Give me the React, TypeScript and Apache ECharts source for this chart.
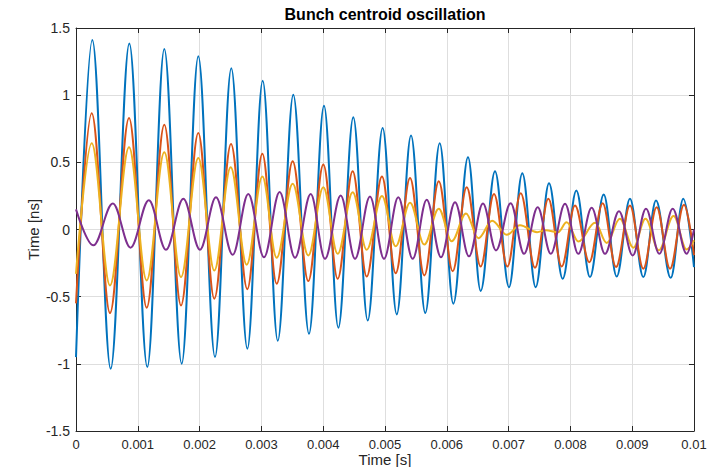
import React, { useEffect, useRef } from "react";
import * as echarts from "echarts";

// Extrema: [time (s), value (ns)]
const blueData: [number, number][] = [
  [0, -0.95], [0.000264, 1.41], [0.000561, -1.036], [0.000863, 1.385], [0.001154, -1.024],
  [0.001429, 1.343], [0.00171, -0.999], [0.001979, 1.29], [0.002249, -0.949], [0.002513, 1.2],
  [0.002773, -0.887], [0.003021, 1.108], [0.003265, -0.828], [0.003516, 1.004], [0.00377, -0.776],
  [0.004013, 0.922], [0.004245, -0.731], [0.004487, 0.835], [0.00472, -0.677], [0.004962, 0.756],
  [0.00519, -0.632], [0.005421, 0.699], [0.005652, -0.622], [0.005885, 0.642], [0.006106, -0.552],
  [0.006343, 0.538], [0.006548, -0.457], [0.00678, 0.434], [0.007006, -0.429], [0.007222, 0.419],
  [0.007438, -0.429], [0.007654, 0.344], [0.007875, -0.367], [0.008096, 0.29], [0.008317, -0.354],
  [0.008539, 0.26], [0.008749, -0.35], [0.008964, 0.228], [0.00918, -0.354], [0.009385, 0.216],
  [0.009623, -0.36], [0.009827, 0.228], [0.01, -0.28],
];

const redData: [number, number][] = [
  [0, -0.55], [0.000254, 0.865], [0.00055, -0.622], [0.000858, 0.83], [0.001144, -0.582],
  [0.001429, 0.78], [0.001699, -0.565], [0.001979, 0.719], [0.002238, -0.515], [0.002508, 0.637],
  [0.002772, -0.444], [0.003015, 0.563], [0.003247, -0.404], [0.003506, 0.508], [0.003759, -0.384],
  [0.004002, 0.483], [0.004234, -0.367], [0.004477, 0.434], [0.004704, -0.35], [0.004951, 0.394],
  [0.005173, -0.325], [0.005405, 0.384], [0.005636, -0.342], [0.00587, 0.359], [0.006095, -0.31],
  [0.006322, 0.315], [0.006548, -0.275], [0.006764, 0.265], [0.00698, -0.275], [0.007196, 0.27],
  [0.007427, -0.285], [0.007643, 0.228], [0.007859, -0.275], [0.008074, 0.178], [0.008306, -0.243],
  [0.008522, 0.196], [0.008738, -0.28], [0.008964, 0.178], [0.00918, -0.292], [0.009396, 0.166],
  [0.009612, -0.292], [0.009838, 0.184], [0.01, -0.19],
];

const yellowData: [number, number][] = [
  [0, -0.33], [0.000254, 0.642], [0.00055, -0.416], [0.000858, 0.612], [0.001144, -0.379],
  [0.001429, 0.575], [0.001699, -0.354], [0.001979, 0.533], [0.002238, -0.305], [0.002503, 0.463],
  [0.002762, -0.262], [0.003015, 0.394], [0.003247, -0.21], [0.003506, 0.34], [0.003759, -0.193],
  [0.004002, 0.315], [0.004234, -0.181], [0.004477, 0.277], [0.004704, -0.151], [0.004951, 0.25],
  [0.005173, -0.125], [0.005405, 0.2], [0.005636, -0.112], [0.00587, 0.155], [0.006079, -0.088],
  [0.006311, 0.12], [0.00651, -0.065], [0.006735, 0.065], [0.00697, -0.04], [0.007184, 0.032],
  [0.00746, -0.02], [0.0076, -0.005], [0.0078, -0.02], [0.00794, 0.054], [0.00813, -0.09],
  [0.0084, 0.05], [0.008588, -0.1], [0.0088, 0.08], [0.00902, -0.135], [0.009215, 0.08],
  [0.00943, -0.155], [0.00967, 0.1], [0.00988, -0.148], [0.01, -0.08],
];

const purpleData: [number, number][] = [
  [0, 0.15], [0.00028, -0.118], [0.000596, 0.193], [0.000882, -0.135], [0.001179, 0.218],
  [0.001456, -0.151], [0.001737, 0.228], [0.002006, -0.151], [0.002265, 0.24], [0.002535, -0.188],
  [0.002788, 0.265], [0.003042, -0.206], [0.003295, 0.28], [0.003544, -0.21], [0.003798, 0.265],
  [0.004029, -0.218], [0.004283, 0.253], [0.004515, -0.218], [0.004757, 0.245], [0.004984, -0.218],
  [0.005215, 0.24], [0.005448, -0.218], [0.005675, 0.221], [0.005906, -0.206], [0.006133, 0.203],
  [0.006359, -0.2], [0.006585, 0.193], [0.006796, -0.156], [0.007034, 0.196], [0.00725, -0.181],
  [0.007471, 0.166], [0.007682, -0.181], [0.007913, 0.191], [0.008128, -0.181], [0.008344, 0.161],
  [0.00856, -0.181], [0.008786, 0.136], [0.009008, -0.193], [0.009223, 0.154], [0.009439, -0.181],
  [0.009655, 0.154], [0.009881, -0.181], [0.01, 0.0],
];

const seriesNames = ["Bunch 1", "Bunch 2", "Bunch 3", "Bunch 4"];
const seriesColors = ["#0072BD", "#D95319", "#EDB120", "#7E2F8E"];
const titleText = "Bunch centroid oscillation";
const xName = "Time [s]";
const yName = "Time [ns]";

const FONT = "'Liberation Sans', Arial, Helvetica, sans-serif";
const AXC = "#262626";

export default function App() {
  const ref = useRef<HTMLDivElement>(null);
  useEffect(() => {
    if (!ref.current) return;
    const chart = echarts.init(ref.current, undefined, { renderer: "svg" });
    const allData = [blueData, redData, yellowData, purpleData];
    const axisCommon = {
      axisLine: { show: true, onZero: false, lineStyle: { color: AXC, width: 1 } },
      axisTick: { show: true, inside: true, length: 5, lineStyle: { color: AXC, width: 1 } },
    };
    chart.setOption({
      animation: false,
      backgroundColor: "#ffffff",
      textStyle: { fontFamily: FONT },
      graphic: [
        {
          type: "text",
          x: 385,
          y: 14,
          style: {
            text: titleText,
            fill: "#000000",
            font: `bold 16px ${FONT}`,
            textAlign: "center",
            textVerticalAlign: "middle",
          },
        },
      ],
      grid: {
        left: 76,
        right: 21,
        top: 28,
        bottom: 36,
        containLabel: false,
        outerBoundsMode: "none",
      },
      xAxis: [
        {
          type: "value",
          position: "bottom",
          min: 0,
          max: 0.01,
          interval: 0.001,
          ...axisCommon,
          axisLabel: {
            color: AXC,
            fontSize: 13,
            lineHeight: 13,
            fontFamily: FONT,
            margin: 7,
            formatter: (v: number) => (v === 0 ? "0" : String(parseFloat(v.toFixed(3)))),
          },
          splitLine: { show: true, lineStyle: { color: "#dedede", width: 1 } },
          name: xName,
          nameLocation: "middle",
          nameGap: 21,
          nameMoveOverlap: false,
          nameTextStyle: { color: AXC, fontSize: 15, lineHeight: 15, fontFamily: FONT },
        },
        {
          type: "value",
          position: "top",
          min: 0,
          max: 0.01,
          interval: 0.001,
          ...axisCommon,
          axisLabel: { show: false },
          splitLine: { show: false },
        },
      ],
      yAxis: [
        {
          type: "value",
          position: "left",
          min: -1.5,
          max: 1.5,
          interval: 0.5,
          ...axisCommon,
          axisLabel: { color: AXC, fontSize: 14, fontFamily: FONT, margin: 6 },
          splitLine: { show: true, lineStyle: { color: "#dedede", width: 1 } },
          name: yName,
          nameLocation: "middle",
          nameGap: 35,
          nameMoveOverlap: false,
          nameTextStyle: { color: AXC, fontSize: 15, fontFamily: FONT },
        },
        {
          type: "value",
          position: "right",
          min: -1.5,
          max: 1.5,
          interval: 0.5,
          ...axisCommon,
          axisLabel: { show: false },
          splitLine: { show: false },
        },
      ],
      series: allData.map((d, i) => ({
        type: "line",
        name: seriesNames[i],
        data: d,
        xAxisIndex: 0,
        yAxisIndex: 0,
        showSymbol: false,
        symbol: "none",
        smooth: 0.36,
        smoothMonotone: "x",
        clip: true,
        lineStyle: { color: seriesColors[i], width: 2 },
        itemStyle: { color: seriesColors[i] },
        emphasis: { disabled: true },
      })),
    });
    return () => chart.dispose();
  }, []);
  return (
    <div
      ref={ref}
      style={{ position: "absolute", left: 0, top: 0, width: 715, height: 467 }}
    />
  );
}
